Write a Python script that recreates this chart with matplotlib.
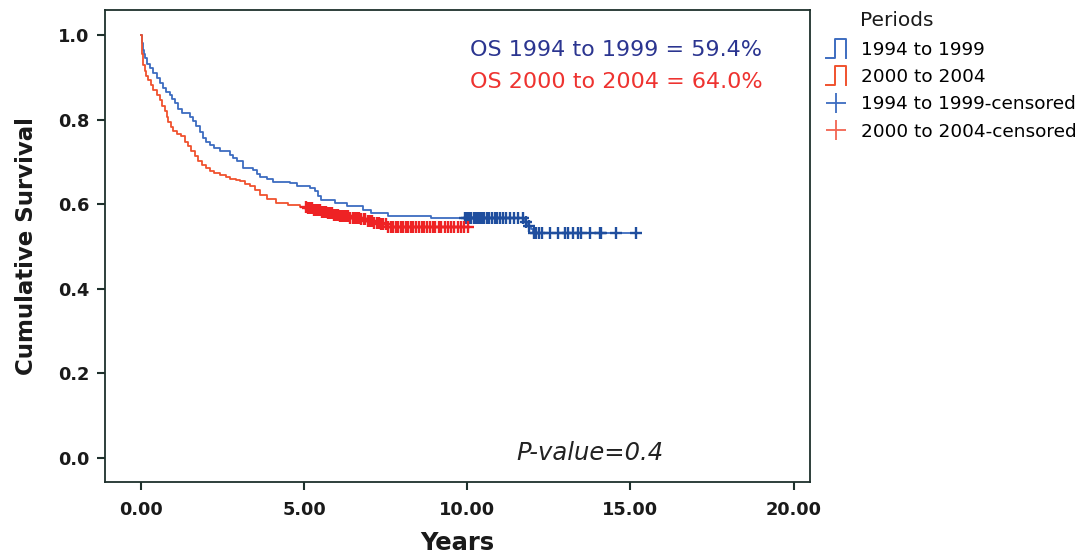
from matplotlib import pyplot as plt
import numpy as np
from matplotlib.lines import Line2D
from matplotlib.legend_handler import HandlerBase
from matplotlib.ticker import FixedLocator

plt.rcParams['font.family'] = ['DejaVu Sans']

# Kaplan-Meier steps (years, cumulative survival after the step)
t_9499 = [0, 0.02, 0.05, 0.08, 0.12, 0.2, 0.28, 0.38, 0.48, 0.58, 0.68, 0.78, 0.89, 0.96,
          1.04, 1.15, 1.25, 1.5, 1.6, 1.70, 1.8, 1.91, 2.0, 2.11, 2.25, 2.42, 2.73, 2.83,
          2.93, 3.13, 3.44, 3.55, 3.64, 3.85, 4.05, 4.56, 4.77, 5.18, 5.33, 5.43, 5.53,
          5.94, 6.3, 6.81, 7.06, 7.57, 8.9, 11.75, 11.85, 11.95, 12.02]
s_9499 = [1.0, 0.98, 0.965, 0.955, 0.945, 0.932, 0.921, 0.909, 0.897, 0.886, 0.874, 0.866,
          0.858, 0.848, 0.838, 0.826, 0.815, 0.807, 0.796, 0.784, 0.770, 0.756, 0.748, 0.740,
          0.732, 0.725, 0.716, 0.708, 0.701, 0.685, 0.680, 0.672, 0.665, 0.660, 0.653, 0.650,
          0.643, 0.638, 0.630, 0.620, 0.610, 0.603, 0.596, 0.586, 0.578, 0.572, 0.566, 0.558,
          0.549, 0.541, 0.531]
end_9499 = 15.25

t_0004 = [0, 0.02, 0.04, 0.07, 0.12, 0.17, 0.22, 0.3, 0.38, 0.48, 0.58, 0.66, 0.73, 0.79,
          0.84, 0.92, 0.99, 1.1, 1.24, 1.35, 1.45, 1.55, 1.65, 1.75, 1.86, 2.0, 2.11, 2.25,
          2.42, 2.6, 2.73, 2.9, 3.03, 3.2, 3.34, 3.5, 3.64, 3.85, 4.15, 4.5, 4.87, 5.08,
          5.3, 5.5, 5.69, 5.9, 6.1, 6.4, 6.71, 6.9, 7.1, 7.32, 7.53]
s_0004 = [1.0, 0.975, 0.955, 0.929, 0.915, 0.904, 0.894, 0.882, 0.870, 0.858, 0.846, 0.832,
          0.819, 0.806, 0.795, 0.783, 0.772, 0.766, 0.760, 0.748, 0.737, 0.725, 0.713, 0.703,
          0.693, 0.685, 0.678, 0.673, 0.668, 0.664, 0.660, 0.657, 0.654, 0.648, 0.642, 0.634,
          0.622, 0.612, 0.603, 0.598, 0.594, 0.590, 0.586, 0.582, 0.578, 0.574, 0.571, 0.568,
          0.565, 0.560, 0.556, 0.552, 0.547]
end_0004 = 10.08

# censored times
cens_9499 = [9.92, 10.0, 10.05, 10.12, 10.2, 10.27, 10.33, 10.4, 10.46, 10.52, 10.6, 10.68,
             10.77, 10.85, 10.92, 11.0, 11.1, 11.18, 11.3, 11.42, 11.55, 11.7, 11.8, 11.9,
             12.04, 12.1, 12.2, 12.3, 12.53, 12.78, 12.99, 13.09, 13.24, 13.39, 13.49, 13.75,
             14.06, 14.11, 14.55, 15.18]
cens_0004 = [5.05, 5.12, 5.18, 5.24, 5.31, 5.37, 5.42, 5.48, 5.55, 5.61, 5.66, 5.73, 5.79,
             5.85, 5.92, 5.98, 6.04, 6.11, 6.17, 6.23, 6.29, 6.36, 6.42, 6.49, 6.55, 6.62,
             6.68, 6.75, 6.82, 6.88, 6.95, 7.02, 7.08, 7.15, 7.22, 7.28, 7.36, 7.43, 7.51,
             7.58, 7.66, 7.73, 7.81, 7.88, 7.96, 8.04, 8.12, 8.19, 8.27, 8.35, 8.43, 8.51,
             8.6, 8.68, 8.77, 8.85, 8.94, 9.02, 9.12, 9.2, 9.31, 9.4, 9.5, 9.58, 9.7, 9.8,
             9.9, 10.02]

x_ticks = [0, 5, 10, 15, 20]
y_ticks = [0.0, 0.2, 0.4, 0.6, 0.8, 1.0]

blue_line = '#3d6cc0'
blue_cens = '#1f4e9e'
red_line = '#f0522e'
red_cens = '#ee2224'
frame = '#1e302c'


def on_curve(t, s, c):
    t = np.asarray(t)
    s = np.asarray(s)
    return s[np.searchsorted(t, c, side='right') - 1]


class StepHandler(HandlerBase):
    def create_artists(self, legend, orig_handle, xdescent, ydescent, width, height,
                       fontsize, trans):
        x0, y0 = -xdescent, -ydescent - 0.2 * height
        top = y0 + 1.45 * height
        xs = [x0, x0 + 0.45 * width, x0 + 0.45 * width, x0 + width, x0 + width]
        ys = [y0, y0, top, top, y0]
        return [Line2D(xs, ys, color=orig_handle.get_color(), lw=1.4, transform=trans)]


fig = plt.figure(figsize=(10.88, 5.54), dpi=100)
ax = fig.add_axes([0.0965, 0.130, 0.648, 0.852])

ax.step(t_9499 + [end_9499], s_9499 + [s_9499[-1]], where='post', color=blue_line, lw=1.3)
ax.step(t_0004 + [end_0004], s_0004 + [s_0004[-1]], where='post', color=red_line, lw=1.3)
ax.plot(cens_9499, on_curve(t_9499, s_9499, cens_9499), ls='none', marker='+', ms=8,
        mew=1.7, color=blue_cens)
ax.plot(cens_0004, on_curve(t_0004, s_0004, cens_0004), ls='none', marker='+', ms=8,
        mew=1.7, color=red_cens)

ax.set_xlim(-1.1, 20.5)
ax.set_ylim(-0.057, 1.059)
ax.xaxis.set_major_locator(FixedLocator(x_ticks))
ax.yaxis.set_major_locator(FixedLocator(y_ticks))
ax.set_xticklabels([f'{v:.2f}' for v in x_ticks], fontsize=12.8, fontweight='bold',
                   color='#1a1a1a')
ax.set_yticklabels([f'{v:.1f}' for v in y_ticks], fontsize=12.8, fontweight='bold',
                   color='#1a1a1a')
ax.tick_params(direction='out', length=6, width=1.5, color=frame)
ax.tick_params(axis='x', pad=8)
ax.tick_params(axis='y', pad=5)
for sp in ax.spines.values():
    sp.set_color(frame)
    sp.set_linewidth(1.3)

ax.set_xlabel('Years', fontsize=17.5, fontweight='bold', labelpad=8, color='#1a1a1a')
ax.set_ylabel('Cumulative Survival', fontsize=16.5, fontweight='bold', labelpad=15,
              color='#1a1a1a')

ax.text(0.518, 0.915, 'OS 1994 to 1999 = 59.4%', transform=ax.transAxes, fontsize=16,
        color='#2b3590', va='center')
ax.text(0.518, 0.847, 'OS 2000 to 2004 = 64.0%', transform=ax.transAxes, fontsize=16,
        color='#ee3330', va='center')
ax.text(0.584, 0.061, 'P-value=0.4', transform=ax.transAxes, fontsize=17.5,
        style='italic', color='#222222', va='center')

handles = [Line2D([], [], color=blue_line), Line2D([], [], color=red_line),
           Line2D([], [], ls='none', marker='+', ms=14, mew=1.3, color=blue_line),
           Line2D([], [], ls='none', marker='+', ms=14, mew=1.3, color='#f26552')]
labels = ['1994 to 1999', '2000 to 2004', '1994 to 1999-censored', '2000 to 2004-censored']
fig.text(860 / 1088, 1 - 20 / 554, 'Periods', fontsize=14.5, va='center', ha='left',
         color='#1a1a1a')
fig.legend(handles, labels, loc='upper left', bbox_to_anchor=(0.759, 0.926),
           frameon=False, fontsize=13.3, handlelength=1.1, handletextpad=0.8,
           labelspacing=0.5, borderaxespad=0, borderpad=0,
           handler_map={handles[0]: StepHandler(), handles[1]: StepHandler()})

plt.savefig('out.png', dpi=100)
